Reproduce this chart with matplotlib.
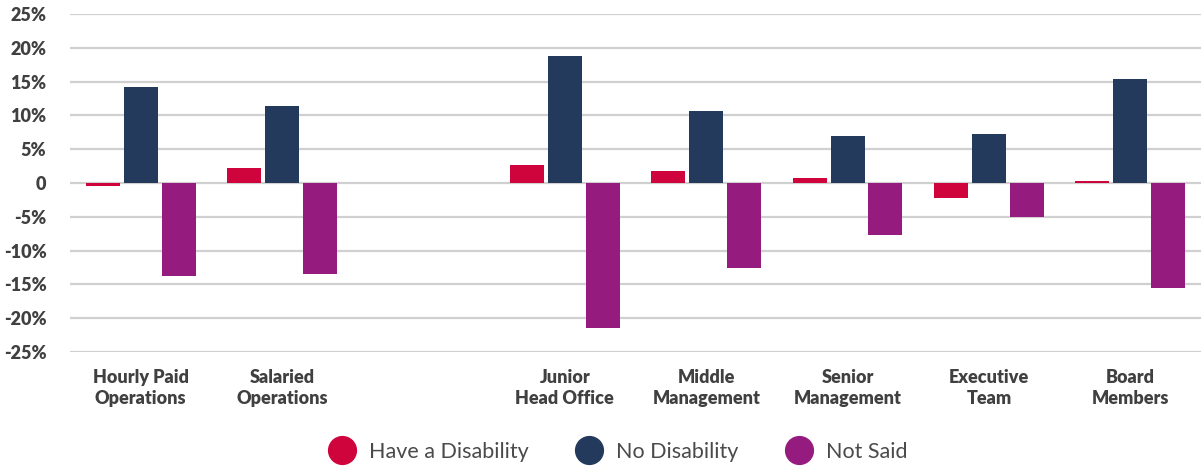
import numpy as np
import matplotlib
matplotlib.use("Agg")
import matplotlib.pyplot as plt
from matplotlib.lines import Line2D

# roles, with an empty slot between operations and head office
roles = ["Hourly Paid\nOperations", "Salaried\nOperations", "",
         "Junior\nHead Office", "Middle\nManagement", "Senior\nManagement",
         "Executive\nTeam", "Board\nMembers"]

# difference vs. population share, in percent
have_disability = [-0.4, 2.2, np.nan, 2.7, 1.8, 0.7, -2.2, 0.3]
no_disability = [14.2, 11.4, np.nan, 18.8, 10.6, 6.9, 7.2, 15.4]
not_said = [-13.8, -13.5, np.nan, -21.5, -12.5, -7.7, -5.1, -15.6]

series_names = ["Have a Disability", "No Disability", "Not Said"]
colors = ["#D0043C", "#233A5C", "#951C7E"]
yticks = [-25, -20, -15, -10, -5, 0, 5, 10, 15, 20, 25]
ytick_labels = ["-25%", "-20%", "-15%", "-10%", "-5%", "0",
                "5%", "10%", "15%", "20%", "25%"]

text_color = "#404040"
plt.rcParams['font.family'] = ['Lato', 'DejaVu Sans']

fig = plt.figure(figsize=(12.01, 4.67), dpi=100)
ax = fig.add_axes([70 / 1201, 1 - 352 / 467, 1 - 70 / 1201, (352 - 14) / 467])

x = np.arange(len(roles))
width = 0.24
step = 0.268
for i, (vals, c) in enumerate(zip([have_disability, no_disability, not_said], colors)):
    ax.bar(x + (i - 1) * step, vals, width, color=c, zorder=3)

ax.set_xlim(-0.5, len(roles) - 0.5)
ax.set_ylim(-25, 25)
ax.set_yticks(yticks)
ax.set_yticklabels(ytick_labels, fontsize=13, fontweight="heavy", color=text_color)
ax.set_xticks(x)
ax.set_xticklabels(roles, fontsize=13, fontweight="heavy", color=text_color,
                   linespacing=1.3)
ax.tick_params(axis="both", length=0)
ax.tick_params(axis="y", pad=17)
ax.tick_params(axis="x", pad=12)
ax.grid(axis="y", color="#d0d0d0", linewidth=1.6, zorder=0)
for s in ax.spines.values():
    s.set_visible(False)

handles = [Line2D([], [], linestyle="none", marker="o", markersize=20,
                  markerfacecolor=c, markeredgecolor=c) for c in colors]
leg = fig.legend(handles, series_names, loc="lower center", ncol=3,
                 frameon=False, bbox_to_anchor=(0.514, -0.03),
                 fontsize=15.5, handlelength=1.4, handletextpad=0.55,
                 columnspacing=2.1)
for t in leg.get_texts():
    t.set_color("#4a4a4a")

fig.savefig("out.png", dpi=100)
